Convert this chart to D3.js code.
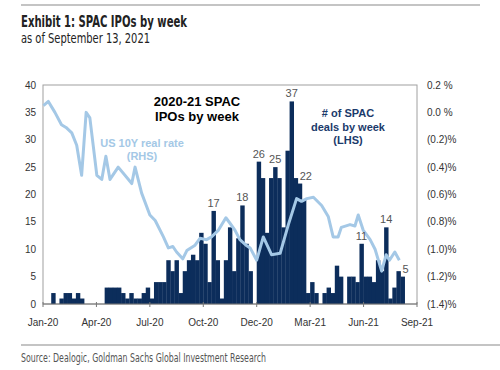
<!DOCTYPE html>
<html>
<head>
<meta charset="utf-8">
<script src="https://cdn.jsdelivr.net/npm/d3@7"></script>
<style>
  body { margin: 0; background: #fff; }
  svg { display: block; }
</style>
</head>
<body>
<svg id="chart" width="500" height="370"></svg>
<script>
// weekly SPAC IPO counts, week 0 = first week of Jan-20
const spacDeals = [
  0, 0, 2, 0, 1, 2, 2, 1, 2, 1,
  0, 0, 0, 0, 0, 3, 3, 3, 3, 2,
  1, 2, 1, 1, 2, 3, 1, 4, 4, 4,
  8, 6, 8, 2, 6, 8, 9, 8, 13, 11,
  4, 17, 8, 1, 8, 14, 6, 12, 18, 11,
  6, 0, 26, 23, 13, 23, 25, 23, 14, 28,
  37, 23, 22, 19, 2, 4, 2, 0, 2, 3,
  2, 7, 5, 0, 5, 5, 4, 11, 5, 5,
  4, 8, 6, 14, 1, 3, 6, 5
];

// labelled peaks (week index)
const labelWeeks = [41, 48, 52, 56, 60, 62, 77, 83, 87];

// US 10Y real rate, read at these week positions
const rateWeek = [
  0.1, 1.3, 2.9, 4.5, 5.6, 7.0, 8.2, 9.4, 10.5, 11.4,
  13.1, 14.3, 15.3, 16.3, 18.3, 21.6, 22.4, 24.0, 26.0, 27.3,
  29.3, 30.5, 31.6, 32.5, 34.0, 35.0, 37.0, 38.2, 39.8, 41.0,
  42.7, 44.5, 45.5, 46.7, 47.9, 49.4, 50.4, 52.0, 53.6, 55.6,
  57.7, 59.7, 61.7, 62.9, 64.2, 65.8, 67.8, 69.4, 70.6, 71.8,
  72.6, 74.7, 75.9, 76.7, 77.9, 79.6, 80.8, 82.4, 83.5, 84.3,
  85.6, 86.7
];
const rateValue = [
  0.05, 0.08, 0.00, -0.09, -0.11, -0.15, -0.24, -0.46, 0.00, -0.04,
  -0.46, -0.49, -0.32, -0.49, -0.40, -0.52, -0.40, -0.59, -0.75, -0.79,
  -0.91, -0.99, -0.98, -1.02, -1.07, -1.01, -0.97, -0.92, -0.93, -0.91,
  -0.86, -0.77, -0.81, -0.86, -0.93, -0.97, -0.99, -1.08, -0.91, -1.04,
  -1.03, -0.82, -0.63, -0.65, -0.63, -0.62, -0.68, -0.76, -0.91, -0.91,
  -0.84, -0.82, -0.83, -0.75, -0.86, -0.93, -1.00, -1.16, -1.04, -1.08,
  -1.02, -1.08
];

const tickWeeks = [0, 13, 26, 39, 52, 65, 78, 91];
const tickLabels = ["Jan-20", "Apr-20", "Jul-20", "Oct-20", "Dec-20", "Mar-21", "Jun-21", "Sep-21"];
const leftTicks = [0, 5, 10, 15, 20, 25, 30, 35, 40];
const rightTicks = [0.2, 0.0, -0.2, -0.4, -0.6, -0.8, -1.0, -1.2, -1.4];

const svg = d3.select("#chart");
const plot = { left: 43, right: 417, top: 85, bottom: 304 };

const barColor = "#0c2d5b";
const lineColor = "#a4c8e6";
const axisFont = "'Liberation Sans', Arial, sans-serif";
const narrowFont = "'Liberation Sans Narrow', 'DejaVu Sans Condensed', Arial, sans-serif";

const x = d3.scaleLinear().domain([0, 91]).range([plot.left, plot.right]);
const yL = d3.scaleLinear().domain([0, 40]).range([plot.bottom, plot.top]);
const yR = d3.scaleLinear().domain([-1.4, 0.2]).range([plot.bottom, plot.top]);

// header
svg.append("line")
  .attr("x1", 21).attr("x2", 480).attr("y1", 5).attr("y2", 5)
  .attr("stroke", "#b0b0b0").attr("stroke-width", 1.5);

svg.append("text")
  .attr("x", 21).attr("y", 27)
  .attr("font-family", narrowFont).attr("font-weight", "bold")
  .attr("font-size", 16).attr("fill", "#222")
  .attr("textLength", 166).attr("lengthAdjust", "spacingAndGlyphs")
  .text("Exhibit 1: SPAC IPOs by week");

svg.append("text")
  .attr("x", 21).attr("y", 43)
  .attr("font-family", narrowFont)
  .attr("font-size", 14).attr("fill", "#222")
  .attr("textLength", 129).attr("lengthAdjust", "spacingAndGlyphs")
  .text("as of September 13, 2021");

// frame
svg.append("rect")
  .attr("x", plot.left).attr("y", plot.top)
  .attr("width", plot.right - plot.left).attr("height", plot.bottom - plot.top)
  .attr("fill", "none").attr("stroke", "#a0a0a0").attr("stroke-width", 1);

// bars
svg.append("g")
  .selectAll("rect")
  .data(spacDeals)
  .enter()
  .append("rect")
    .attr("x", (d, i) => x(i))
    .attr("width", x(1) - x(0) + 0.3)
    .attr("y", d => yL(d))
    .attr("height", d => yL(0) - yL(d))
    .attr("fill", barColor);

// rate line
const line = d3.line()
  .x((d, i) => x(rateWeek[i]))
  .y(d => yR(d));

svg.append("path")
  .datum(rateValue)
  .attr("d", line)
  .attr("fill", "none")
  .attr("stroke", lineColor)
  .attr("stroke-width", 3)
  .attr("stroke-linejoin", "round");

// peak labels
const labelShift = { 62: 6, 87: 3 };
svg.append("g")
  .selectAll("text")
  .data(labelWeeks)
  .enter()
  .append("text")
    .attr("x", w => x(w + 0.5) + (labelShift[w] || 0))
    .attr("y", w => yL(spacDeals[w]) - 4)
    .attr("text-anchor", "middle")
    .attr("font-family", axisFont).attr("font-size", 11)
    .attr("fill", "#555")
    .text(w => spacDeals[w]);

// x axis
svg.append("line")
  .attr("x1", plot.left).attr("x2", plot.right)
  .attr("y1", plot.bottom).attr("y2", plot.bottom)
  .attr("stroke", "#777");

const xt = svg.append("g");
xt.selectAll("line")
  .data(tickWeeks)
  .enter()
  .append("line")
    .attr("x1", w => x(w)).attr("x2", w => x(w))
    .attr("y1", plot.bottom - 2).attr("y2", plot.bottom + 3)
    .attr("stroke", "#777");

xt.selectAll("text")
  .data(tickWeeks)
  .enter()
  .append("text")
    .attr("x", w => x(w)).attr("y", 326)
    .attr("text-anchor", "middle")
    .attr("font-family", axisFont).attr("font-size", 10)
    .attr("fill", "#333")
    .text((w, i) => tickLabels[i]);

// left axis labels
svg.append("g")
  .selectAll("text")
  .data(leftTicks)
  .enter()
  .append("text")
    .attr("x", 36).attr("y", d => yL(d) + 3.5)
    .attr("text-anchor", "end")
    .attr("font-family", axisFont).attr("font-size", 10)
    .attr("fill", "#333")
    .text(d => d);

// right axis labels
const fmtRate = r => r >= -0.001 ? Math.abs(r).toFixed(1) + " %" : "(" + (-r).toFixed(1) + ")%";
svg.append("g")
  .selectAll("text")
  .data(rightTicks)
  .enter()
  .append("text")
    .attr("x", 427).attr("y", d => yR(d) + 3.5)
    .attr("font-family", axisFont).attr("font-size", 10)
    .attr("fill", "#333")
    .text(fmtRate);

// annotations
const note = (lines, cx, y0, dy, size, color) => {
  lines.forEach((t, i) => {
    svg.append("text")
      .attr("x", cx).attr("y", y0 + i * dy)
      .attr("text-anchor", "middle")
      .attr("font-family", axisFont).attr("font-weight", "bold")
      .attr("font-size", size).attr("fill", color)
      .text(t);
  });
};
note(["2020-21 SPAC", "IPOs by week"], 197, 106, 15, 13, "#000");
note(["US 10Y real rate", "(RHS)"], 142, 147, 13, 11, lineColor);
note(["# of SPAC", "deals by week", "(LHS)"], 348, 117, 13.5, 11, "#1b3a6b");

// footer
svg.append("line")
  .attr("x1", 21).attr("x2", 500).attr("y1", 345).attr("y2", 345)
  .attr("stroke", "#b0b0b0").attr("stroke-width", 1.5);

svg.append("text")
  .attr("x", 21).attr("y", 362)
  .attr("font-family", narrowFont)
  .attr("font-size", 12).attr("fill", "#555")
  .attr("textLength", 245).attr("lengthAdjust", "spacingAndGlyphs")
  .text("Source: Dealogic, Goldman Sachs Global Investment Research");
</script>
</body>
</html>
